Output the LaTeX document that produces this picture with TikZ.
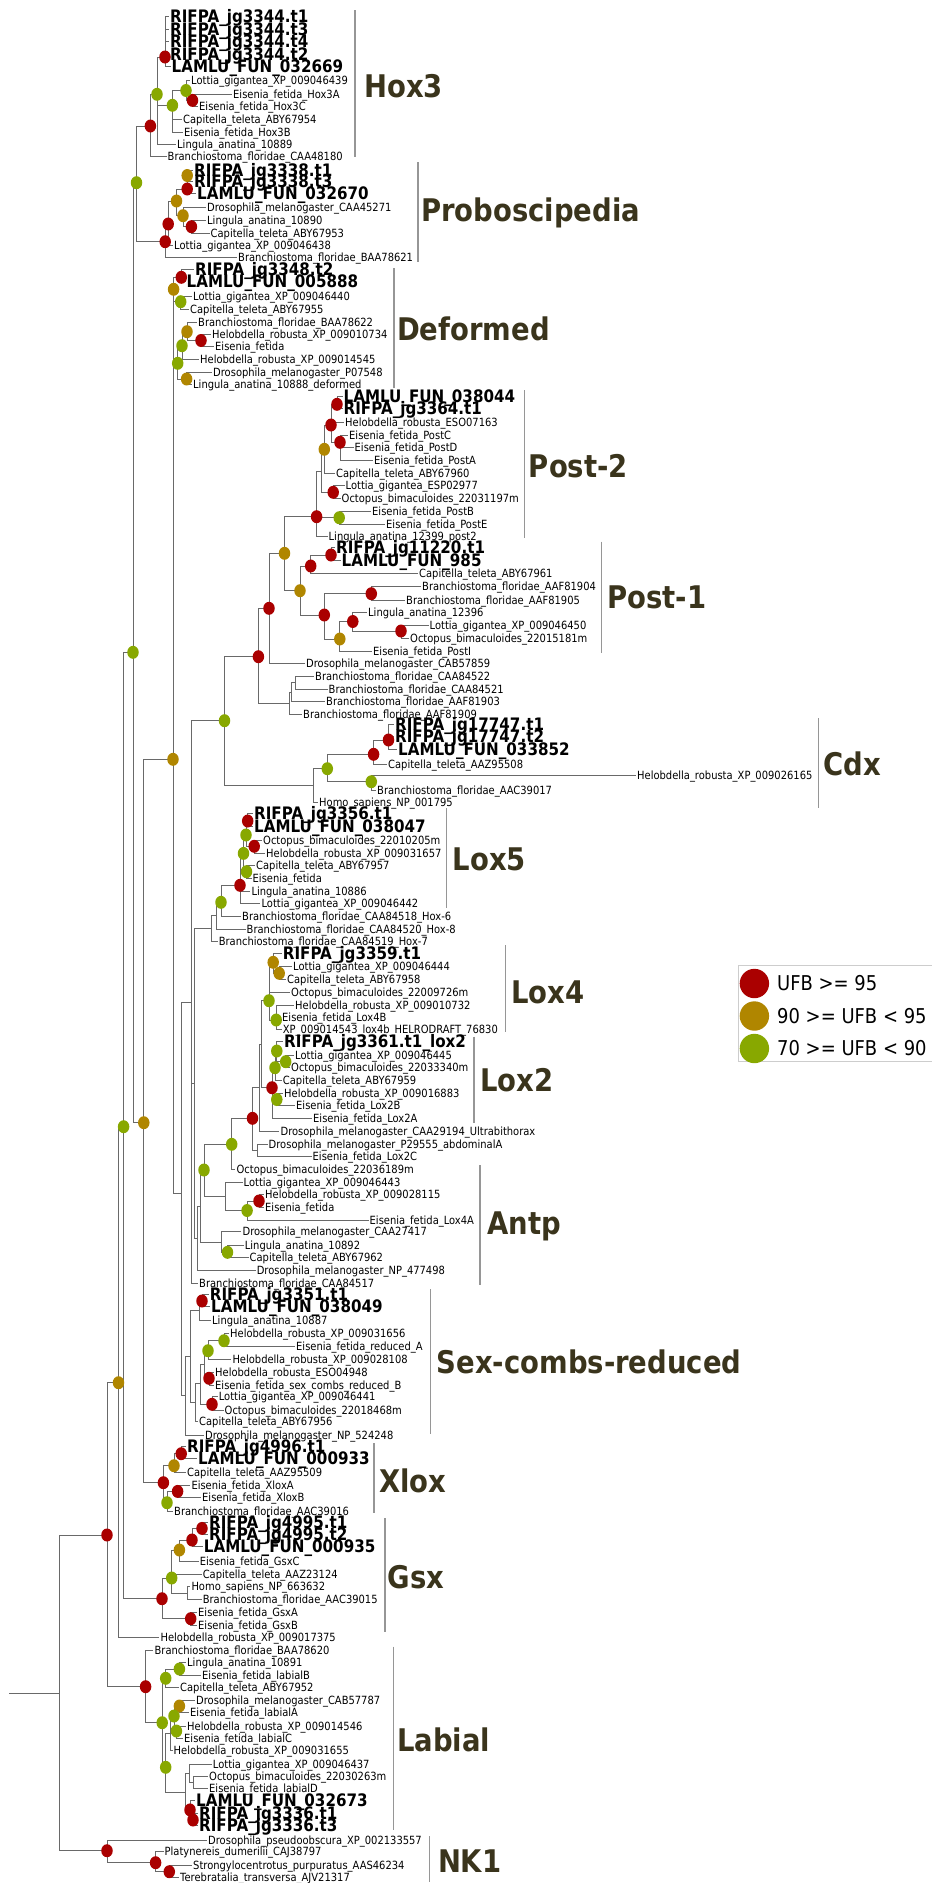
\documentclass[tikz,border=0pt]{standalone}
\usepackage{fontspec}
\setmainfont{DejaVu Sans}[FakeStretch=0.88]
\usetikzlibrary{shapes.geometric}
\definecolor{ufbr}{RGB}{170,0,0}
\definecolor{ufbg}{RGB}{176,134,0}
\definecolor{ufbv}{RGB}{136,168,0}
\definecolor{brc}{RGB}{105,105,105}
\definecolor{barc}{RGB}{150,150,150}
\definecolor{cladec}{RGB}{58,52,28}
\definecolor{legc}{RGB}{205,205,205}
\newcommand{\Lf}[4]{\coordinate (#1) at (#2,#3); \node[lab] (#1-t) at (#1) {#4};}
\newcommand{\Bf}[4]{\coordinate (#1) at (#2,#3); \node[blab] (#1-t) at (#1) {#4};}
\newcommand{\In}[3]{\coordinate (#1) at (#2,#3);}
\newcommand{\Kids}[2]{\foreach \ch in {#2}{\draw[br] (#1) |- (\ch);}}
\newcommand{\Clade}[6]{\draw[cbar] (#2,#3) -- (#2,#4); \node[clade] (#1) at (#5,#6) {#1};}
\begin{document}
\begin{tikzpicture}[x=1pt,y=-1pt,
  lab/.style={anchor=west, inner xsep=1pt, inner ysep=0pt, text height=8.2pt, text depth=0pt, font=\fontsize{11.3}{11.3}\selectfont},
  blab/.style={anchor=west, inner xsep=1pt, inner ysep=0pt, text height=12.5pt, text depth=0pt, font=\fontsize{17.2}{17.2}\selectfont\bfseries},
  clade/.style={anchor=west, inner sep=0pt, text height=22.6pt, text depth=0pt, text=cladec, font=\fontsize{31.2}{31.2}\selectfont\bfseries},
  br/.style={draw=brc, line width=0.9pt},
  cbar/.style={draw=barc, line width=1.2pt},
  dot/.style={ellipse, minimum width=11.5pt, minimum height=13pt, inner sep=0pt, draw=none},
  legtext/.style={anchor=west, inner sep=0pt, font=\fontsize{20.4}{20.4}\selectfont}]
\useasboundingbox (0,0) rectangle (932,1883);

% ---------------- Hox3
\Bf{h1}{169}{16}{RIFPA\_jg3344.t1}
\Bf{h2}{169}{29.3}{RIFPA\_jg3344.t3}
\Bf{h3}{169}{41.7}{RIFPA\_jg3344.t4}
\Bf{h4}{169}{54}{RIFPA\_jg3344.t2}
\Bf{h5}{170.5}{66.7}{LAMLU\_FUN\_032669}
\Lf{h6}{190}{80.7}{Lottia\_gigantea\_XP\_009046439}
\Lf{h7}{232}{94}{Eisenia\_fetida\_Hox3A}
\Lf{h8}{198}{106.7}{Eisenia\_fetida\_Hox3C}
\Lf{h9}{182}{119.3}{Capitella\_teleta\_ABY67954}
\Lf{h10}{183}{132}{Eisenia\_fetida\_Hox3B}
\Lf{h11}{176}{144.7}{Lingula\_anatina\_10889}
\Lf{h12}{166.5}{156.7}{Branchiostoma\_floridae\_CAA48180}
\In{hA}{165}{57}
\In{hF}{192.5}{100.4}
\In{hE}{186}{90.5}
\In{hG}{172.4}{105.3}
\In{hB}{157}{94.3}
\In{R1}{150.4}{126}

% ---------------- Proboscipedia
\Bf{p1}{193}{170}{RIFPA\_jg3338.t1}
\Bf{p2}{193}{181}{RIFPA\_jg3338.t3}
\Bf{p3}{196}{193.3}{LAMLU\_FUN\_032670}
\Lf{p4}{206}{207.7}{Drosophila\_melanogaster\_CAA45271}
\Lf{p5}{206}{220.3}{Lingula\_anatina\_10890}
\Lf{p6}{209.5}{233.3}{Capitella\_teleta\_ABY67953}
\Lf{p7}{173}{245}{Lottia\_gigantea\_XP\_009046438}
\Lf{p8}{237}{257}{Branchiostoma\_floridae\_BAA78621}
\In{pg1}{187.2}{175.5}
\In{pr1}{187.2}{189}
\In{pr3}{191.4}{226.7}
\In{pg3}{183}{215.7}
\In{pg2}{176.5}{201}
\In{pr4}{168.2}{224}
\In{pr5}{165.2}{241.7}
\In{Ghp}{136.5}{182.7}

% ---------------- Deformed
\Bf{d1}{194}{269}{RIFPA\_jg3348.t2}
\Bf{d2}{185.5}{281.7}{LAMLU\_FUN\_005888}
\Lf{d3}{192}{296}{Lottia\_gigantea\_XP\_009046440}
\Lf{d4}{189}{309.3}{Capitella\_teleta\_ABY67955}
\Lf{d5}{197}{322.3}{Branchiostoma\_floridae\_BAA78622}
\Lf{d6}{211}{334.3}{Helobdella\_robusta\_XP\_009010734}
\Lf{d7}{214}{346.7}{Eisenia\_fetida}
\Lf{d8}{199}{359.3}{Helobdella\_robusta\_XP\_009014545}
\Lf{d9}{212}{372}{Drosophila\_melanogaster\_P07548}
\Lf{d10}{192}{384.3}{Lingula\_anatina\_10888\_deformed}
\In{dr1}{181.3}{277.3}
\In{dgr}{180.7}{301.7}
\In{dg1}{173.6}{289.3}
\In{dr2}{201}{340.5}
\In{dg2}{187}{331.7}
\In{dgr2}{182}{345.7}
\In{dg3}{186.6}{379}
\In{dgr3}{177.7}{363.3}
\In{D0}{173}{326.3}

% ---------------- Post-2
\Bf{q1}{342.5}{396}{LAMLU\_FUN\_038044}
\Bf{q2}{342.5}{408.3}{RIFPA\_jg3364.t1}
\Lf{q3}{344}{422.7}{Helobdella\_robusta\_ESO07163}
\Lf{q4}{348}{435.7}{Eisenia\_fetida\_PostC}
\Lf{q5}{353.5}{447.3}{Eisenia\_fetida\_PostD}
\Lf{q6}{373}{460.7}{Eisenia\_fetida\_PostA}
\Lf{q7}{335}{473.3}{Capitella\_teleta\_ABY67960}
\Lf{q8}{344.5}{485.7}{Lottia\_gigantea\_ESP02977}
\Lf{q9}{340.5}{498.3}{Octopus\_bimaculoides\_22031197m}
\Lf{q10}{371}{511}{Eisenia\_fetida\_PostB}
\Lf{q11}{385}{524}{Eisenia\_fetida\_PostE}
\Lf{q12}{327.5}{536}{Lingula\_anatina\_12399\_post2}
\In{p2r1}{337}{404.3}
\In{p2r3}{340}{442.3}
\In{p2r2}{331}{425}
\In{p2g1}{324.3}{449.3}
\In{p2r4}{333.2}{492.3}
\In{p2g2}{339.2}{517.7}
\In{p2n}{321}{471}
\In{p2r5}{316.6}{516.7}
\In{pga}{284.5}{553.3}

% ---------------- Post-1
\Bf{r1}{335}{547.3}{RIFPA\_jg11220.t1}
\Bf{r2}{340.5}{560}{LAMLU\_FUN\_985}
\Lf{r3}{418}{573.7}{Capitella\_teleta\_ABY67961}
\Lf{r4}{421}{586}{Branchiostoma\_floridae\_AAF81904}
\Lf{r5}{405}{600}{Branchiostoma\_floridae\_AAF81905}
\Lf{r6}{367}{612.3}{Lingula\_anatina\_12396}
\Lf{r7}{428.5}{625.7}{Lottia\_gigantea\_XP\_009046450}
\Lf{r8}{409}{638.3}{Octopus\_bimaculoides\_22015181m}
\Lf{r9}{372}{651}{Eisenia\_fetida\_PostI}
\Lf{r10}{305}{663.3}{Drosophila\_melanogaster\_CAB57859}
\Lf{b1}{314}{676}{Branchiostoma\_floridae\_CAA84522}
\Lf{b2}{327.5}{689}{Branchiostoma\_floridae\_CAA84521}
\Lf{b3}{325}{701}{Branchiostoma\_floridae\_AAF81903}
\Lf{b4}{302}{714}{Branchiostoma\_floridae\_AAF81909}
\In{p1r1}{331}{555}
\In{p1r2}{310.7}{566}
\In{p1r3}{371.3}{593.7}
\In{p1r5}{401}{631}
\In{p1r4}{352.8}{621.5}
\In{p1g1}{339.8}{639}
\In{p1r6}{324.3}{615}
\In{p1g0}{300}{590.7}
\In{r269}{269}{608.3}
\In{nb1}{295.4}{682.5}
\In{nb2}{291.5}{692}
\In{nb3}{289.3}{703}
\In{r258}{258.4}{656.7}
\In{Gd}{224.5}{720.7}

% ---------------- Cdx
\Bf{c1}{394}{724.3}{RIFPA\_jg17747.t1}
\Bf{c2}{394}{736.7}{RIFPA\_jg17747.t2}
\Bf{c3}{397}{749.3}{LAMLU\_FUN\_033852}
\Lf{c4}{387}{764.3}{Capitella\_teleta\_AAZ95508}
\Lf{c5}{636}{775.3}{Helobdella\_robusta\_XP\_009026165}
\Lf{c6}{376}{790}{Branchiostoma\_floridae\_AAC39017}
\Lf{c7}{318}{802.7}{Homo\_sapiens\_NP\_001795}
\In{cr1}{388.5}{740}
\In{cr2}{373.6}{754.3}
\In{cg2}{371.3}{781.7}
\In{cg1}{327.3}{768.7}
\In{Cdx0}{313}{785.7}

% ---------------- Lox5
\Bf{f1}{253}{813.3}{RIFPA\_jg3356.t1}
\Bf{f2}{253}{826}{LAMLU\_FUN\_038047}
\Lf{f3}{262}{840}{Octopus\_bimaculoides\_22010205m}
\Lf{f4}{265}{853}{Helobdella\_robusta\_XP\_009031657}
\Lf{f5}{255}{865}{Capitella\_teleta\_ABY67957}
\Lf{f6}{251.5}{878.3}{Eisenia\_fetida}
\Lf{f7}{250.3}{891}{Lingula\_anatina\_10886}
\Lf{f8}{260.4}{903.7}{Lottia\_gigantea\_XP\_009046442}
\Lf{f9}{241}{916}{Branchiostoma\_floridae\_CAA84518\_Hox-6}
\Lf{f10}{245.5}{929}{Branchiostoma\_floridae\_CAA84520\_Hox-8}
\Lf{f11}{217.6}{941.7}{Branchiostoma\_floridae\_CAA84519\_Hox-7}
\In{l5r1}{247.7}{821}
\In{l5r2}{254.2}{846.3}
\In{l5g1}{246}{835}
\In{l5g3}{246.5}{871.7}
\In{l5g2}{243.5}{853.4}
\In{l5r3}{240}{885.3}
\In{l5g4}{221}{902.3}
\In{l5n1}{216}{915.5}
\In{L5a}{211}{928.6}

% ---------------- Lox4
\Bf{x1}{281.7}{953.3}{RIFPA\_jg3359.t1}
\Lf{x2}{292}{966.7}{Lottia\_gigantea\_XP\_009046444}
\Lf{x3}{286}{979.3}{Capitella\_teleta\_ABY67958}
\Lf{x4}{290}{992.3}{Octopus\_bimaculoides\_22009726m}
\Lf{x5}{294}{1005}{Helobdella\_robusta\_XP\_009010732}
\Lf{x6}{281}{1017.3}{Eisenia\_fetida\_Lox4B}
\Lf{x7}{281.7}{1029.3}{XP\_009014543\_lox4b\_HELRODRAFT\_76830}
\In{x4g1}{279.2}{973.3}
\In{x4g0}{273.2}{962.3}
\In{x4g2}{276.2}{1020}
\In{x4r}{269}{1000.7}

% ---------------- Lox2
\Bf{y1}{283}{1041}{RIFPA\_jg3361.t1\_lox2}
\Lf{y2}{294}{1055.7}{Lottia\_gigantea\_XP\_009046445}
\Lf{y3}{290}{1067.3}{Octopus\_bimaculoides\_22033340m}
\Lf{y4}{281.7}{1080.3}{Capitella\_teleta\_ABY67959}
\Lf{y5}{283}{1093.3}{Helobdella\_robusta\_XP\_009016883}
\Lf{y6}{295}{1105.7}{Eisenia\_fetida\_Lox2B}
\Lf{y7}{312}{1118.3}{Eisenia\_fetida\_Lox2A}
\Lf{y8}{279.4}{1131}{Drosophila\_melanogaster\_CAA29194\_Ultrabithorax}
\Lf{y9}{267.5}{1144}{Drosophila\_melanogaster\_P29555\_abdominalA}
\Lf{y10}{311.5}{1156}{Eisenia\_fetida\_Lox2C}
\Lf{y11}{235.4}{1169.3}{Octopus\_bimaculoides\_22036189m}
\In{x2g1}{285.7}{1061.7}
\In{x2g2}{276.8}{1051}
\In{x2g3}{275}{1067.7}
\In{x2g4}{276.8}{1099.5}
\In{x2r}{272}{1087.7}
\In{nlx2}{261.4}{1044}
\In{na}{259.6}{1087.5}
\In{nb}{257}{1150}
\In{Rub}{252.5}{1118.3}
\In{g231}{231.7}{1144.3}

% ---------------- Antp
\Lf{a1}{242.5}{1182}{Lottia\_gigantea\_XP\_009046443}
\Lf{a2}{264}{1194.3}{Helobdella\_robusta\_XP\_009028115}
\Lf{a3}{264}{1207.3}{Eisenia\_fetida}
\Lf{a4}{368.5}{1220}{Eisenia\_fetida\_Lox4A}
\Lf{a5}{241.4}{1231.7}{Drosophila\_melanogaster\_CAA27417}
\Lf{a6}{243.7}{1245.7}{Lingula\_anatina\_10892}
\Lf{a7}{248.5}{1257.7}{Capitella\_teleta\_ABY67962}
\Lf{a8}{255.6}{1270.7}{Drosophila\_melanogaster\_NP\_477498}
\Lf{a9}{198}{1283.3}{Branchiostoma\_floridae\_CAA84517}
\In{ar1}{259}{1201}
\In{ag1}{247.1}{1210.5}
\In{an}{225.7}{1196.5}
\In{g201}{204}{1170}
\In{ag2}{227.5}{1252.3}
\In{n221}{221}{1242}
\In{Nq}{200}{1206}
\In{Nq2}{197}{1238.4}
\In{Nr}{194}{1083.5}
\In{Nx}{191.3}{1002}

% ---------------- Sex-combs-reduced
\Bf{s1}{208.7}{1294}{RIFPA\_jg3351.t1}
\Bf{s2}{210}{1306.7}{LAMLU\_FUN\_038049}
\Lf{s3}{211}{1320.7}{Lingula\_anatina\_10887}
\Lf{s4}{229}{1333.3}{Helobdella\_robusta\_XP\_009031656}
\Lf{s5}{295}{1346.7}{Eisenia\_fetida\_reduced\_A}
\Lf{s6}{231.3}{1359}{Helobdella\_robusta\_XP\_009028108}
\Lf{s7}{214}{1372.3}{Helobdella\_robusta\_ESO04948}
\Lf{s8}{214}{1385}{Eisenia\_fetida\_sex\_combs\_reduced\_B}
\Lf{s9}{217.6}{1396.7}{Lottia\_gigantea\_XP\_009046441}
\Lf{s10}{223.5}{1410}{Octopus\_bimaculoides\_22018468m}
\Lf{s11}{198}{1421.7}{Capitella\_teleta\_ABY67956}
\Lf{s12}{204}{1435}{Drosophila\_melanogaster\_NP\_524248}
\In{sr1}{202}{1301}
\In{Sa}{199}{1310.5}
\In{sg2}{224}{1340.7}
\In{sg1}{208}{1350.7}
\In{sr2}{209}{1378.3}
\In{Sc}{204}{1364}
\In{sr3}{212}{1404.3}
\In{Sd}{200}{1383.7}
\In{Se}{195.5}{1402.7}
\In{Sf}{190.5}{1356.6}
\In{Sroot}{185}{1395.8}
\In{Nlox}{181}{1193.3}
\In{G1}{173}{759.3}

% ---------------- Xlox
\Bf{v1}{186}{1446.7}{RIFPA\_jg4996.t1}
\Bf{v2}{197}{1458.3}{LAMLU\_FUN\_000933}
\Lf{v3}{186}{1472.7}{Capitella\_teleta\_AAZ95509}
\Lf{v4}{190.3}{1485}{Eisenia\_fetida\_XloxA}
\Lf{v5}{201}{1497.7}{Eisenia\_fetida\_XloxB}
\Lf{v6}{173}{1511}{Branchiostoma\_floridae\_AAC39016}
\In{xr1}{181.2}{1453.7}
\In{xg1}{174}{1465.7}
\In{xr2}{177.6}{1491.4}
\In{xg2}{167}{1502.7}
\In{Xl}{163.4}{1482.7}
\In{Gb}{143.8}{1122.7}
\In{Gc}{133}{652.3}

% ---------------- Gsx
\Bf{w1}{208}{1522.7}{RIFPA\_jg4995.t1}
\Bf{w2}{208}{1534}{RIFPA\_jg4995.t2}
\Bf{w3}{202.7}{1546.7}{LAMLU\_FUN\_000935}
\Lf{w4}{198.6}{1561}{Eisenia\_fetida\_GsxC}
\Lf{w5}{201.6}{1574}{Capitella\_teleta\_AAZ23124}
\Lf{w6}{190.3}{1586.7}{Homo\_sapiens\_NP\_663632}
\Lf{w7}{201.6}{1599.3}{Branchiostoma\_floridae\_AAC39015}
\Lf{w8}{197}{1612}{Eisenia\_fetida\_GsxA}
\Lf{w9}{197}{1625.3}{Eisenia\_fetida\_GsxB}
\Lf{w10}{159.4}{1637.7}{Helobdella\_robusta\_XP\_009017375}
\In{gr1}{202}{1528.4}
\In{gr2}{192}{1540}
\In{gg1}{179.4}{1550}
\In{hb}{187}{1593}
\In{gg2}{171.7}{1578}
\In{gr3}{190.7}{1618.7}
\In{Gsx}{162}{1598.7}
\In{Ga}{123.6}{1126.7}
\In{G0}{118.5}{1382.7}

% ---------------- Labial
\Lf{k1}{153.4}{1650}{Branchiostoma\_floridae\_BAA78620}
\Lf{k2}{186}{1662.3}{Lingula\_anatina\_10891}
\Lf{k3}{201}{1675.7}{Eisenia\_fetida\_labialB}
\Lf{k4}{179}{1687.7}{Capitella\_teleta\_ABY67952}
\Lf{k5}{195}{1700.7}{Drosophila\_melanogaster\_CAB57787}
\Lf{k6}{189}{1712.3}{Eisenia\_fetida\_labialA}
\Lf{k7}{186}{1726}{Helobdella\_robusta\_XP\_009014546}
\Lf{k8}{183}{1738.3}{Eisenia\_fetida\_labialC}
\Lf{k9}{172.5}{1750.7}{Helobdella\_robusta\_XP\_009031655}
\Lf{k10}{211.7}{1764}{Lottia\_gigantea\_XP\_009046437}
\Lf{k11}{208}{1776.7}{Octopus\_bimaculoides\_22030263m}
\Lf{k12}{208}{1788.3}{Eisenia\_fetida\_labialD}
\Bf{k13}{195}{1800.7}{LAMLU\_FUN\_032673}
\Bf{k14}{198}{1813.3}{RIFPA\_jg3336.t1}
\Bf{k15}{198}{1825}{RIFPA\_jg3336.t3}
\In{lg1}{179.4}{1669}
\In{lg2}{165.7}{1678.3}
\In{lgo}{179.4}{1706}
\In{lgB}{176.4}{1731}
\In{lgC}{174}{1716}
\In{ln170}{170.5}{1733.4}
\In{losub}{193}{1782.5}
\In{lo1}{189}{1773}
\In{lr2}{193}{1820}
\In{lr1}{190}{1809.9}
\In{lbot}{185.3}{1792}
\In{lg3}{165.7}{1767.3}
\In{LB1}{162.2}{1722.7}
\In{LBr}{145.6}{1686.7}

% ---------------- NK1
\Lf{n1}{207}{1840}{Drosophila\_pseudoobscura\_XP\_002133557}
\Lf{n2}{163.5}{1851.7}{Platynereis\_dumerilii\_CAJ38797}
\Lf{n3}{192}{1865.7}{Strongylocentrotus\_purpuratus\_AAS46234}
\Lf{n4}{179}{1877.7}{Terebratalia\_transversa\_AJV21317}
\In{nr2}{169.3}{1871.7}
\In{nr1}{155.6}{1862.7}
\In{Rnk1}{107}{1850.7}
\In{Rhox}{107}{1535}
\In{Root}{59.4}{1693}
\coordinate (r0) at (9,1693);

% ================= branches
\draw[br] (r0) -- (Root);
\Kids{Root}{Rhox,Rnk1}
\Kids{Rhox}{G0,LBr}
\Kids{G0}{Ga,w10}
\Kids{Ga}{Gc,Gsx}
\Kids{Gc}{Ghp,Gb}
\Kids{Ghp}{R1,pr5}
\Kids{Gb}{G1,Xl}
\Kids{G1}{D0,Nlox}
% Hox3
\Kids{hA}{h1,h2,h3,h4,h5}
\Kids{hF}{h7,h8}
\Kids{hE}{h6,hF}
\Kids{hG}{hE,h9,h10}
\Kids{hB}{hA,hG,h11}
\Kids{R1}{hB,h12}
% Proboscipedia
\Kids{pg1}{p1,p2}
\Kids{pr1}{pg1,p3}
\Kids{pr3}{p5,p6}
\Kids{pg3}{p4,pr3}
\Kids{pg2}{pr1,pg3}
\Kids{pr4}{pg2,p7}
\Kids{pr5}{pr4,p8}
% Deformed
\Kids{dr1}{d1,d2}
\Kids{dgr}{d3,d4}
\Kids{dg1}{dr1,dgr}
\Kids{dr2}{d6,d7}
\Kids{dg2}{d5,dr2}
\Kids{dgr2}{dg2,d8}
\Kids{dg3}{d9,d10}
\Kids{dgr3}{dgr2,dg3}
\Kids{D0}{dg1,dgr3}
% Post-2
\Kids{p2r1}{q1,q2}
\Kids{p2r3}{q4,q5,q6}
\Kids{p2r2}{p2r1,q3,p2r3}
\Kids{p2g1}{p2r2,q7}
\Kids{p2r4}{q8,q9}
\Kids{p2g2}{q10,q11}
\Kids{p2n}{p2g1,p2r4}
\Kids{p2r5}{p2n,p2g2,q12}
\Kids{pga}{p2r5,p1g0}
% Post-1
\Kids{p1r1}{r1,r2}
\Kids{p1r2}{p1r1,r3}
\Kids{p1r3}{r4,r5}
\Kids{p1r5}{r7,r8}
\Kids{p1r4}{r6,p1r5}
\Kids{p1g1}{p1r4,r9}
\Kids{p1r6}{p1r3,p1g1}
\Kids{p1g0}{p1r2,p1r6}
\Kids{r269}{pga,r10}
\Kids{nb1}{b1,b2}
\Kids{nb2}{nb1,b3}
\Kids{nb3}{nb2,b4}
\Kids{r258}{r269,nb3}
\Kids{Gd}{r258,Cdx0}
% Cdx
\Kids{cr1}{c1,c2,c3}
\Kids{cr2}{cr1,c4}
\Kids{cg2}{c5,c6}
\Kids{cg1}{cr2,cg2}
\Kids{Cdx0}{cg1,c7}
% Lox5
\Kids{l5r1}{f1,f2}
\Kids{l5r2}{f3,f4}
\Kids{l5g1}{l5r1,l5r2}
\Kids{l5g3}{f5,f6}
\Kids{l5g2}{l5g1,l5g3}
\Kids{l5r3}{l5g2,f7,f8}
\Kids{l5g4}{l5r3,f9}
\Kids{l5n1}{l5g4,f10}
\Kids{L5a}{l5n1,f11}
% Lox4
\Kids{x4g1}{x2,x3}
\Kids{x4g0}{x1,x4g1}
\Kids{x4g2}{x5,x6,x7}
\Kids{x4r}{x4g0,x4,x4g2}
% Lox2
\Kids{x2g1}{y2,y3}
\Kids{x2g2}{y1,x2g1}
\Kids{x2g3}{x2g2,y4}
\Kids{x2g4}{y5,y6}
\Kids{x2r}{x2g3,x2g4,y7}
\Kids{nlx2}{x4r,x2r}
\Kids{na}{nlx2,y8}
\Kids{nb}{y9,y10}
\Kids{Rub}{na,nb}
\Kids{g231}{Rub,y11}
% Antp
\Kids{ar1}{a2,a3}
\Kids{ag1}{ar1,a4}
\Kids{an}{a1,ag1}
\Kids{g201}{g231,an}
\Kids{ag2}{a6,a7}
\Kids{n221}{a5,ag2}
\Kids{Nq}{g201,n221}
\Kids{Nq2}{Nq,a8}
\Kids{Nr}{L5a,Nq2}
\Kids{Nx}{Gd,Nr,a9}
% Scr
\Kids{sr1}{s1,s2}
\Kids{Sa}{sr1,s3}
\Kids{sg2}{s4,s5}
\Kids{sg1}{sg2,s6}
\Kids{sr2}{s7,s8}
\Kids{Sc}{sg1,sr2}
\Kids{sr3}{s9,s10}
\Kids{Sd}{Sc,sr3}
\Kids{Se}{Sd,s11}
\Kids{Sf}{Sa,Se}
\Kids{Sroot}{Sf,s12}
\Kids{Nlox}{Nx,Sroot}
% Xlox
\Kids{xr1}{v1,v2}
\Kids{xg1}{xr1,v3}
\Kids{xr2}{v4,v5}
\Kids{xg2}{xr2,v6}
\Kids{Xl}{xg1,xg2}
% Gsx
\Kids{gr1}{w1,w2}
\Kids{gr2}{gr1,w3}
\Kids{gg1}{gr2,w4}
\Kids{hb}{w6,w7}
\Kids{gg2}{gg1,w5,hb}
\Kids{gr3}{w8,w9}
\Kids{Gsx}{gg2,gr3}
% Labial
\Kids{lg1}{k2,k3}
\Kids{lg2}{lg1,k4}
\Kids{lgo}{k5,k6}
\Kids{lgB}{k7,k8}
\Kids{lgC}{lgo,lgB}
\Kids{ln170}{lgC,k9}
\Kids{losub}{k11,k12}
\Kids{lo1}{k10,losub}
\Kids{lr2}{k14,k15}
\Kids{lr1}{k13,lr2}
\Kids{lbot}{lo1,lr1}
\Kids{lg3}{ln170,lbot}
\Kids{LB1}{lg2,lg3}
\Kids{LBr}{k1,LB1}
% NK1
\Kids{nr2}{n3,n4}
\Kids{nr1}{n2,nr2}
\Kids{Rnk1}{n1,nr1}

% ================= support dots
\foreach \nn/\col in {hA/ufbr,hF/ufbr,hE/ufbv,hG/ufbv,hB/ufbv,R1/ufbr,
  pg1/ufbg,pr1/ufbr,pr3/ufbr,pg3/ufbg,pg2/ufbg,pr4/ufbr,pr5/ufbr,Ghp/ufbv,
  dr1/ufbr,dgr/ufbv,dg1/ufbg,dr2/ufbr,dg2/ufbg,dgr2/ufbv,dg3/ufbg,dgr3/ufbv,
  p2r1/ufbr,p2r3/ufbr,p2r2/ufbr,p2g1/ufbg,p2r4/ufbr,p2g2/ufbv,p2r5/ufbr,pga/ufbg,
  p1r1/ufbr,p1r2/ufbr,p1r3/ufbr,p1r5/ufbr,p1r4/ufbr,p1g1/ufbg,p1r6/ufbr,p1g0/ufbg,r269/ufbr,r258/ufbr,Gd/ufbv,
  cr1/ufbr,cr2/ufbr,cg2/ufbv,cg1/ufbv,
  l5r1/ufbr,l5r2/ufbr,l5g1/ufbv,l5g3/ufbv,l5g2/ufbv,l5r3/ufbr,l5g4/ufbv,
  x4g1/ufbg,x4g0/ufbg,x4g2/ufbv,x4r/ufbv,
  x2g1/ufbv,x2g2/ufbv,x2g3/ufbv,x2g4/ufbv,x2r/ufbr,Rub/ufbr,g231/ufbv,
  ar1/ufbr,ag1/ufbv,g201/ufbv,ag2/ufbv,
  sr1/ufbr,sg2/ufbv,sg1/ufbv,sr2/ufbr,sr3/ufbr,
  G1/ufbg,Gb/ufbg,Gc/ufbv,Ga/ufbv,G0/ufbg,
  xr1/ufbr,xg1/ufbg,xr2/ufbr,xg2/ufbv,Xl/ufbr,
  gr1/ufbr,gr2/ufbr,gg1/ufbg,gg2/ufbv,gr3/ufbr,Gsx/ufbr,
  lg1/ufbv,lg2/ufbv,lgo/ufbg,lgB/ufbv,lgC/ufbv,lg3/ufbv,LB1/ufbv,lr1/ufbr,lr2/ufbr,LBr/ufbr,
  nr1/ufbr,nr2/ufbr,Rnk1/ufbr,Rhox/ufbr}
  {\node[dot,fill=\col] (\nn-c) at (\nn) {};}

% ================= clade bars and names
\Clade{Hox3}{355}{10}{157}{364}{86}
\Clade{Proboscipedia}{418}{162}{262}{421}{210}
\Clade{Deformed}{394}{268}{388}{397}{329}
\Clade{Post-2}{524.5}{390}{538}{528.7}{466}
\Clade{Post-1}{601.7}{541.7}{653}{607}{597}
\Clade{Cdx}{818.5}{718}{807.7}{823}{764}
\Clade{Lox5}{446.7}{808}{907.7}{452.6}{859}
\Clade{Lox4}{505.5}{945}{1031.7}{510.8}{991.7}
\Clade{Lox2}{474}{1036.7}{1122.7}{480}{1080}
\Clade{Antp}{480}{1165}{1285}{487}{1223}
\Clade{Sex-combs-reduced}{430.7}{1289}{1434}{436.6}{1362.3}
\Clade{Xlox}{374}{1443}{1513}{379}{1481}
\Clade{Gsx}{385}{1518}{1631.7}{387.3}{1576.7}
\Clade{Labial}{393.2}{1646.7}{1830}{397}{1740}
\Clade{NK1}{429.5}{1836}{1882}{437.8}{1861}

% ================= legend
\node[draw=legc, line width=1pt, fill=white, minimum width=194pt, minimum height=96pt, anchor=north west, inner sep=0pt] (legend) at (737.5,965) {};
\node[circle, fill=ufbr, minimum size=29.4pt, inner sep=0pt] (lc1) at (754.4,983.5) {};
\node[circle, fill=ufbg, minimum size=29.4pt, inner sep=0pt] (lc2) at (754.4,1016) {};
\node[circle, fill=ufbv, minimum size=29.4pt, inner sep=0pt] (lc3) at (754.4,1048.5) {};
\node[legtext] (lt1) at (777,983.5) {UFB >= 95};
\node[legtext] (lt2) at (777,1016) {90 >= UFB < 95};
\node[legtext] (lt3) at (777,1048.5) {70 >= UFB < 90};
\end{tikzpicture}
\end{document}
